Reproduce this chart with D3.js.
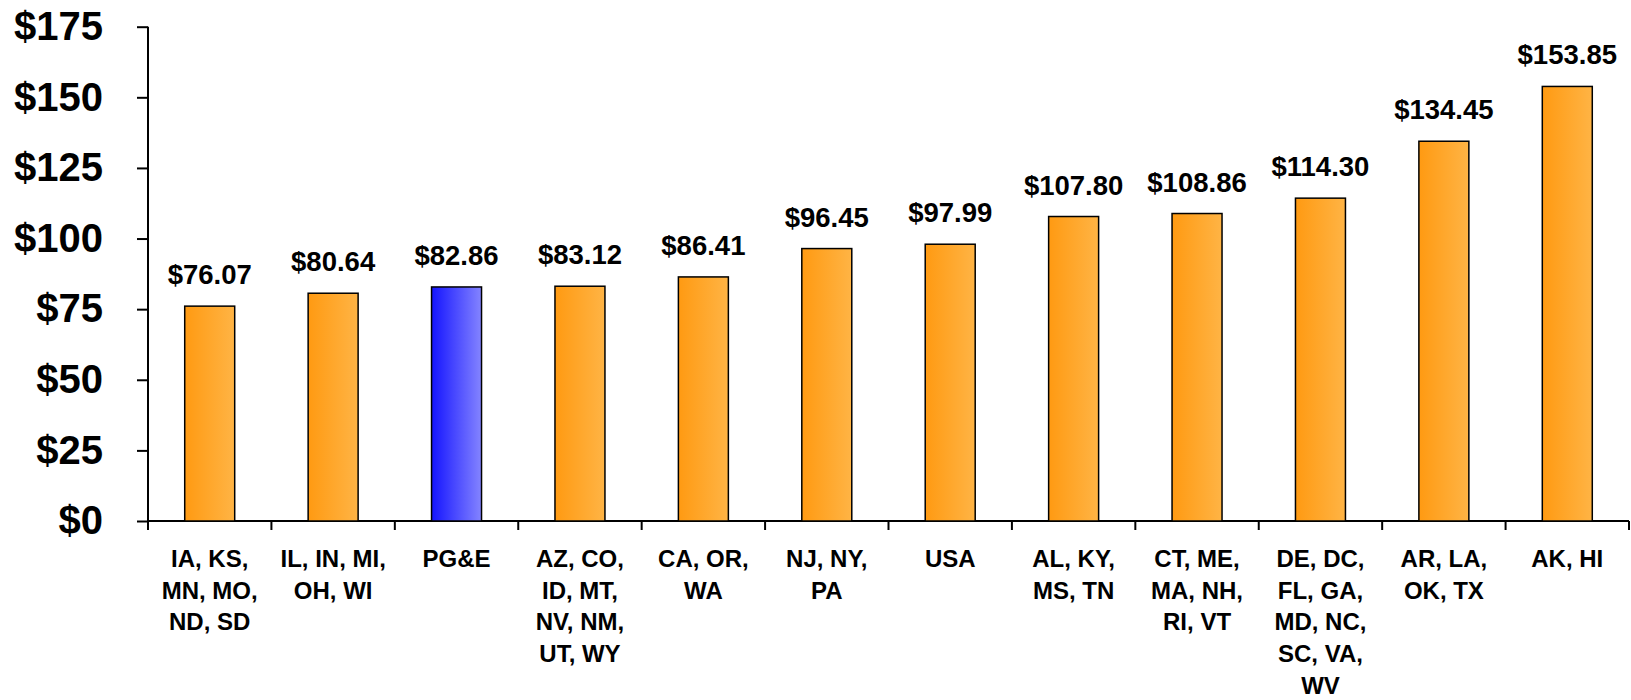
<!DOCTYPE html>
<html>
<head>
<meta charset="utf-8">
<script src="https://cdn.jsdelivr.net/npm/d3@7"></script>
<style>
  body { margin: 0; background: #fff; }
  text { font-family: "Liberation Sans", Arial, sans-serif; font-weight: bold; fill: #000; }
</style>
</head>
<body>
<div id="chart"></div>
<script>
// categories (multi-line labels) and values
var categories = [
    ["IA, KS,", "MN, MO,", "ND, SD"],
    ["IL, IN, MI,", "OH, WI"],
    ["PG&E"],
    ["AZ, CO,", "ID, MT,", "NV, NM,", "UT, WY"],
    ["CA, OR,", "WA"],
    ["NJ, NY,", "PA"],
    ["USA"],
    ["AL, KY,", "MS, TN"],
    ["CT, ME,", "MA, NH,", "RI, VT"],
    ["DE, DC,", "FL, GA,", "MD, NC,", "SC, VA,", "WV"],
    ["AR, LA,", "OK, TX"],
    ["AK, HI"]
];
var values = [76.07, 80.64, 82.86, 83.12, 86.41, 96.45, 97.99, 107.80, 108.86, 114.30, 134.45, 153.85];
var highlight = ["PG&E"];
var yTicks = [0, 25, 50, 75, 100, 125, 150, 175];

var width = 1631, height = 700;
var margin = {top: 26.7, right: 2, bottom: 179, left: 148};

var data = categories.map(function(c, i) {
    return {key: c.join(" "), lines: c, value: values[i]};
});

var svg = d3.select("#chart")
    .append("svg")
    .attr("width", width)
    .attr("height", height);

// gradients
var defs = svg.append("defs");
function grad(id, c1, c2) {
    var g = defs.append("linearGradient").attr("id", id)
        .attr("x1", "0%").attr("x2", "100%").attr("y1", "0%").attr("y2", "0%");
    g.append("stop").attr("offset", "0%").attr("stop-color", c1);
    g.append("stop").attr("offset", "100%").attr("stop-color", c2);
}
grad("orangeGrad", "#ff9a12", "#ffb445");
grad("blueGrad", "#1414ff", "#8484ff");

var x = d3.scaleBand()
    .domain(data.map(function(d) { return d.key; }))
    .range([margin.left, width - margin.right])
    .padding(0);

var y = d3.scaleLinear()
    .domain([0, 175])
    .range([height - margin.bottom, margin.top]);

var barW = x.bandwidth() * 0.405;

// y axis
var yAxis = svg.append("g")
    .attr("transform", "translate(" + margin.left + ",0)")
    .call(d3.axisLeft(y).tickValues(yTicks).tickSize(11).tickPadding(34)
        .tickFormat(function(d) { return "$" + d; }));
yAxis.selectAll("text").style("font-size", "40px");
yAxis.selectAll("line, path").attr("stroke", "#000").attr("stroke-width", 2);
yAxis.select(".domain").attr("d", "M0," + y(175) + "V" + y(0));

// x axis line + boundary ticks
var xAxis = svg.append("g")
    .attr("transform", "translate(0," + y(0) + ")");
xAxis.append("line")
    .attr("x1", margin.left).attr("x2", width - margin.right)
    .attr("stroke", "#000").attr("stroke-width", 2);
var bounds = data.map(function(d) { return x(d.key); }).concat([width - margin.right]);
xAxis.selectAll(".xtick")
    .data(bounds)
    .enter()
    .append("line")
    .attr("class", "xtick")
    .attr("x1", function(d) { return d; })
    .attr("x2", function(d) { return d; })
    .attr("y1", 0).attr("y2", 9)
    .attr("stroke", "#000").attr("stroke-width", 2);

// bars
svg.selectAll(".bar")
    .data(data)
    .enter()
    .append("rect")
    .attr("class", "bar")
    .attr("x", function(d) { return x(d.key) + (x.bandwidth() - barW) / 2; })
    .attr("y", function(d) { return y(d.value); })
    .attr("width", barW)
    .attr("height", function(d) { return y(0) - y(d.value); })
    .attr("fill", function(d) { return highlight.includes(d.key) ? "url(#blueGrad)" : "url(#orangeGrad)"; })
    .attr("stroke", "#000")
    .attr("stroke-width", 1.5);

// value labels
svg.selectAll(".val")
    .data(data)
    .enter()
    .append("text")
    .attr("class", "val")
    .attr("x", function(d) { return x(d.key) + x.bandwidth() / 2; })
    .attr("y", function(d) { return y(d.value) - 22; })
    .attr("text-anchor", "middle")
    .style("font-size", "27.5px")
    .text(function(d) { return "$" + d.value.toFixed(2); });

// category labels
var cat = svg.selectAll(".cat")
    .data(data)
    .enter()
    .append("text")
    .attr("class", "cat")
    .attr("text-anchor", "middle")
    .style("font-size", "24px")
    .attr("transform", function(d) { return "translate(" + (x(d.key) + x.bandwidth() / 2) + ",567)"; });
cat.selectAll("tspan")
    .data(function(d) { return d.lines; })
    .enter()
    .append("tspan")
    .attr("x", 0)
    .attr("y", function(d, i) { return i * 31.7; })
    .text(function(d) { return d; });
</script>
</body>
</html>
